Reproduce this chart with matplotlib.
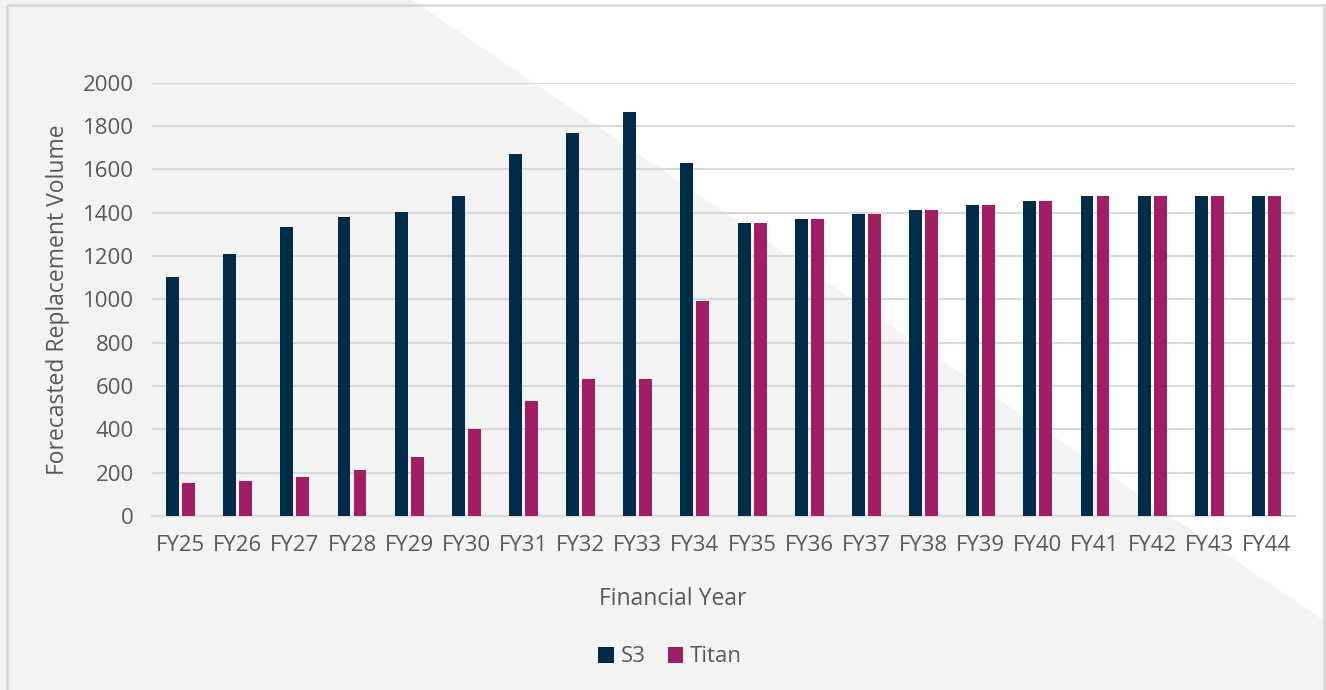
import matplotlib
matplotlib.use("Agg")
import matplotlib.pyplot as plt
from matplotlib.patches import Polygon, Rectangle
import numpy as np

categories = ["FY25", "FY26", "FY27", "FY28", "FY29", "FY30", "FY31", "FY32", "FY33", "FY34",
              "FY35", "FY36", "FY37", "FY38", "FY39", "FY40", "FY41", "FY42", "FY43", "FY44"]
s3 = [1102, 1211, 1332, 1381, 1401, 1479, 1672, 1767, 1867, 1630,
      1351, 1372, 1393, 1413, 1435, 1456, 1477, 1477, 1477, 1477]
titan = [152, 162, 182, 211, 273, 402, 531, 631, 631, 992,
         1351, 1372, 1393, 1413, 1435, 1456, 1477, 1477, 1477, 1477]
yticks = [0, 200, 400, 600, 800, 1000, 1200, 1400, 1600, 1800, 2000]
series_names = ["S3", "Titan"]

C_S3 = "#002B49"
C_TITAN = "#A21E64"
TXT = "#595959"
GRID = "#D9D9D9"

plt.rcParams['font.family'] = ['Open Sans', 'DejaVu Sans']

W, H = 1326, 690
fig = plt.figure(figsize=(W / 100, H / 100), dpi=100)
fig.patch.set_facecolor("#F3F3F3")

# background axes with diagonal white region and border
bg = fig.add_axes([0, 0, 1, 1], zorder=-10)
bg.set_xlim(0, W)
bg.set_ylim(H, 0)
bg.axis("off")
bg.add_patch(Polygon([(412, 0), (W, 0), (W, 622)], closed=True,
                     facecolor="white", edgecolor="none"))
bg.add_patch(Rectangle((7, 5), 1324 - 7, H + 20, facecolor="none",
                       edgecolor=GRID, linewidth=2))

left, right = 152 / W, 1295 / W
bottom, top = 1 - 516 / H, 1 - 82.7 / H
ax = fig.add_axes([left, bottom, right - left, top - bottom], zorder=1)
ax.set_facecolor("none")

x = np.arange(len(categories))
bw = 0.225
off = 0.14
ax.bar(x - off, s3, width=bw, color=C_S3, label=series_names[0], zorder=3)
ax.bar(x + off, titan, width=bw, color=C_TITAN, label=series_names[1], zorder=3)

ax.set_xlim(-0.5, len(categories) - 0.5)
ax.set_ylim(0, 2000)
ax.set_yticks(yticks)
ax.set_yticklabels([str(v) for v in yticks])
ax.set_xticks(x)
ax.set_xticklabels(categories)
ax.tick_params(axis='both', length=0, labelsize=16, colors=TXT)
ax.tick_params(axis='y', pad=13)
ax.tick_params(axis='x', pad=14)
ax.grid(axis='y', color=GRID, linewidth=1.5, zorder=0)
for s in ["top", "right", "left"]:
    ax.spines[s].set_visible(False)
ax.spines["bottom"].set_color(GRID)
ax.spines["bottom"].set_linewidth(1.5)

fig.text(58 / W, 1 - 300 / H, "Forecasted Replacement Volume", rotation=90,
         ha="center", va="center", fontsize=16.5, color=TXT)
fig.text(673 / W, 1 - 599 / H, "Financial Year", ha="center", va="center",
         fontsize=16.5, color=TXT)

leg = fig.legend(loc="center", bbox_to_anchor=(670 / W, 1 - 657 / H), ncol=2,
                 frameon=False, fontsize=16, handlelength=0.7, handleheight=0.7,
                 handletextpad=0.3, columnspacing=1.0)
for t in leg.get_texts():
    t.set_color(TXT)

fig.savefig("out.png", dpi=100, facecolor=fig.get_facecolor())
